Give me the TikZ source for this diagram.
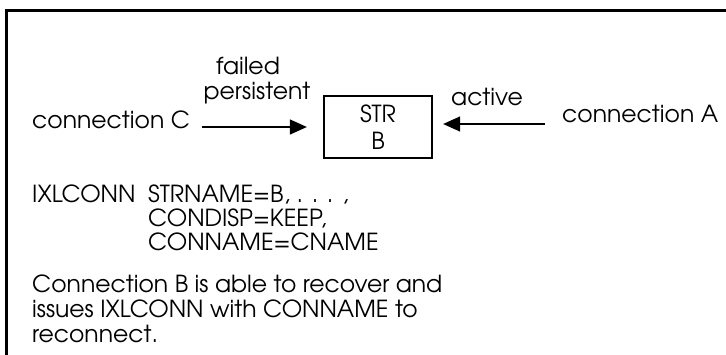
\documentclass[tikz,border=0pt]{standalone}
\usepackage{fontspec}
\setmainfont{TeX Gyre Adventor}
\usetikzlibrary{arrows.meta}
\tikzset{every picture/.style={x=1pt,y=-1pt}}
\tikzset{
  lbl/.style={anchor=base west, inner sep=0pt, font=\fontsize{23.5}{24.5}\selectfont},
  mid/.style={lbl, anchor=base},
  conn/.style={line width=1.3pt, -{Triangle[length=17pt,width=15pt]}},
}

\begin{document}
\begin{tikzpicture}
\useasboundingbox (0,0) rectangle (726,354);
% frame, only top and left edge are in view
\draw[line width=3.3pt] (6.7,370) -- (6.7,10.7) -- (740,10.7);
\node[draw, line width=2.3pt, minimum width=108pt, minimum height=62pt, inner sep=0pt,
      align=center, font=\fontsize{23.5}{27}\selectfont] (str) at (378,127) {STR\\B};
\node[lbl] (cC) at (32,128) {connection C};
\node[mid] (failed) at (248,74) {failed};
\node[mid] (pers) at (257,99) {persistent};
\node[lbl] (act) at (451,105) {active};
\node[lbl] (cA) at (562,122) {connection A};
\coordinate (cCtail) at (202,127);
\coordinate (cAtail) at (545,124);
\draw[conn, shorten >=16pt] (cCtail) -- (cCtail -| str.west);
\draw[conn, shorten >=10pt] (cAtail) -- (cAtail -| str.east);
% macro call
\node[lbl] (ixl) at (32,202) {IXLCONN};
\node[lbl] (strname) at (148,202) {STRNAME=B, . . . ,};
\node[lbl] (condisp) at (148,226) {CONDISP=KEEP,};
\node[lbl] (conname) at (148,250) {CONNAME=CNAME};
% note
\node[lbl] (note1) at (32,292) {Connection B is able to recover and};
\node[lbl] (note2) at (32,317) {issues IXLCONN with CONNAME to};
\node[lbl] (note3) at (32,342) {reconnect.};
\end{tikzpicture}
\end{document}
